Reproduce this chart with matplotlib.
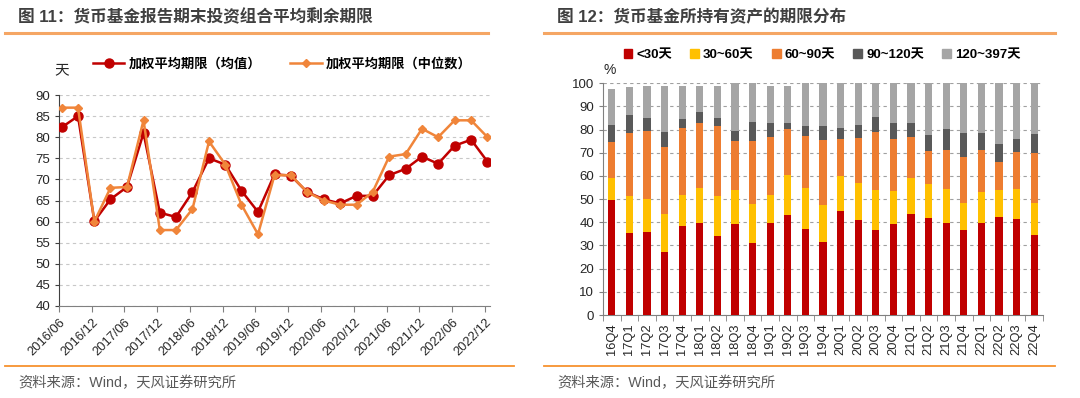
import matplotlib
matplotlib.use("Agg")
import matplotlib.pyplot as plt
import matplotlib.dates as mdates
from matplotlib.lines import Line2D
from matplotlib.patches import Patch
import numpy as np
import pandas as pd

plt.rcParams["font.family"] = ["Liberation Sans", "Noto Sans CJK SC", "DejaVu Sans"]

# ---- chart 11: weighted average maturity ----
periods = [
    "2016/06", "2016/09", "2016/12", "2017/03", "2017/06", "2017/09", "2017/12",
    "2018/03", "2018/06", "2018/09", "2018/12", "2019/03", "2019/06", "2019/09",
    "2019/12", "2020/03", "2020/06", "2020/09", "2020/12", "2021/03", "2021/06",
    "2021/09", "2021/12", "2022/03", "2022/06", "2022/09", "2022/12",
]
wam_mean = [82.3, 85.0, 60.1, 65.3, 68.2, 81.0, 62.1, 61.1, 67.0, 75.0, 73.5, 67.3, 62.3, 71.2,
            70.9, 67.0, 65.3, 64.3, 66.1, 66.1, 71.0, 72.5, 75.4, 73.7, 78.0, 79.4, 74.2]
wam_median = [87, 87, 60, 68, 68.2, 84, 58, 58, 63, 79, 73.5, 64, 57, 71,
              71, 67, 65, 64, 64, 67, 75.4, 76, 82, 80, 84, 84, 80]
line_labels = ["加权平均期限（均值）", "加权平均期限（中位数）"]

# ---- chart 12: maturity buckets (%) ----
quarters = ["16Q4", "17Q1", "17Q2", "17Q3", "17Q4", "18Q1", "18Q2", "18Q3", "18Q4",
            "19Q1", "19Q2", "19Q3", "19Q4", "20Q1", "20Q2", "20Q3", "20Q4",
            "21Q1", "21Q2", "21Q3", "21Q4", "22Q1", "22Q2", "22Q3", "22Q4"]
# cumulative tops
top_lt30 = [49.7, 35.6, 35.9, 27.2, 38.6, 39.5, 34.0, 39.2, 31.1, 39.8, 43.2, 37.2, 31.7,
            45.0, 41.1, 36.5, 39.3, 43.8, 41.9, 39.8, 36.7, 39.5, 42.5, 41.5, 34.4]
top_30_60 = [59.0, 51.5, 50.0, 43.4, 52.0, 54.9, 51.2, 54.0, 47.8, 51.9, 60.6, 55.0, 47.5,
             60.1, 56.8, 54.1, 53.5, 59.0, 56.5, 54.4, 48.4, 53.2, 53.8, 54.4, 48.3]
top_60_90 = [74.5, 78.4, 79.3, 72.4, 80.7, 82.7, 81.4, 75.3, 75.3, 77.0, 80.1, 77.3, 75.5,
             76.0, 76.4, 79.1, 76.0, 76.7, 70.8, 71.2, 68.2, 71.2, 66.0, 70.2, 69.9]
top_90_120 = [82.0, 86.5, 85.0, 79.0, 84.7, 87.6, 85.2, 79.6, 83.3, 82.7, 82.9, 81.7, 81.6,
              80.6, 82.0, 85.3, 83.0, 83.0, 77.6, 80.3, 78.7, 78.7, 73.7, 76.1, 78.1]
top_120_397 = [97.4, 98.6, 98.8, 98.8, 98.8, 98.8, 98.8, 100, 100, 98.8, 98.8, 100, 100,
               100, 100, 100, 100, 100, 100, 100, 100, 100, 100, 100, 100]
bucket_labels = ["<30天", "30~60天", "60~90天", "90~120天", "120~397天"]
bucket_colors = ["#C00000", "#FFC000", "#ED7D31", "#595959", "#A5A5A5"]

TITLE_COLOR = "#404040"
TEXT_COLOR = "#262626"
RULE_TOP = "#F5A664"
RULE_BOT = "#F7922E"

W, H = 1080, 398
fig = plt.figure(figsize=(W / 100, H / 100), dpi=100)


def px_axes(left, top, right, bottom):
    return fig.add_axes([left / W, 1 - bottom / H, (right - left) / W, (bottom - top) / H])


def frame_text(x0, x_top, x_bot, title):
    fig.text(x0 / W + 0.012, 1 - 17 / H, title, fontsize=12, fontweight="bold",
             color=TITLE_COLOR, va="center", ha="left")
    fig.add_artist(Line2D([x0 / W, x_top / W], [1 - 33 / H] * 2, color=RULE_TOP, lw=2.2))
    fig.add_artist(Line2D([x0 / W, x_bot / W], [1 - 366 / H] * 2, color=RULE_BOT, lw=1.3))
    fig.text(x0 / W + 0.012, 1 - 383 / H, "资料来源：Wind，天风证券研究所", fontsize=10.3,
             color="#595959", va="center", ha="left")


frame_text(5, 488, 514, "图 11：货币基金报告期末投资组合平均剩余期限")
frame_text(544, 1055, 1055, "图 12：货币基金所持有资产的期限分布")

# ---- left panel ----
ax1 = px_axes(59, 95, 490, 306)
dates = pd.to_datetime(periods, format="%Y/%m") + pd.Timedelta(days=14)
ax1.plot(dates, wam_mean, color="#C00000", lw=1.8, marker="o", markersize=6.5,
         markeredgecolor="#C00000", label=line_labels[0], zorder=3)
ax1.plot(dates, wam_median, color="#F0853A", lw=1.8, marker="D", markersize=4,
         markeredgecolor="#F0853A", label=line_labels[1], zorder=4)
ticks = pd.date_range("2016-06-01", "2022-12-01", freq="6MS")
ax1.set_xticks(ticks)
ax1.xaxis.set_major_formatter(mdates.DateFormatter("%Y/%m"))
ax1.set_xlim(pd.Timestamp("2016-06-01"), pd.Timestamp("2022-12-29"))
ax1.set_ylim(40, 90)
ax1.set_yticks(np.arange(40, 91, 5))
ax1.grid(axis="y", color="#C8C8C8", ls=(0, (3, 3)), lw=0.8)
ax1.set_axisbelow(True)
for s in ("top", "right"):
    ax1.spines[s].set_visible(False)
ax1.spines["left"].set_color("#404040")
ax1.spines["bottom"].set_color("#808080")
ax1.tick_params(axis="y", labelsize=9.5, colors=TEXT_COLOR, length=3, color="#404040")
ax1.tick_params(axis="x", labelsize=9.3, colors=TEXT_COLOR, length=4, color="#808080")
plt.setp(ax1.get_xticklabels(), rotation=45, ha="right", rotation_mode="anchor")
fig.text(62 / W, 1 - 70 / H, "天", fontsize=10.5, color=TEXT_COLOR, ha="center", va="center")
fig.legend(*ax1.get_legend_handles_labels(), loc="center", bbox_to_anchor=(282 / W, 1 - 64 / H),
           ncol=2, frameon=False, handlelength=2.4, columnspacing=2.2, handletextpad=0.3,
           prop={"weight": "bold", "size": 9.5})

# ---- right panel ----
ax2 = px_axes(603, 83.3, 1043, 315)
x = np.arange(len(quarters))
tops = [top_lt30, top_30_60, top_60_90, top_90_120, top_120_397]
bottom = np.zeros(len(quarters))
for top, color, label in zip(tops, bucket_colors, bucket_labels):
    top = np.asarray(top)
    ax2.bar(x, top - bottom, bottom=bottom, width=0.4, color=color, label=label, zorder=3)
    bottom = top
ax2.set_xlim(-0.5, len(quarters) - 0.5)
ax2.set_ylim(0, 100)
ax2.set_yticks(np.arange(0, 101, 10))
ax2.set_xticks(x)
ax2.set_xticklabels(quarters, rotation=90, fontsize=9.3)
ax2.set_xticks(np.arange(-0.5, len(quarters), 1), minor=True)
ax2.tick_params(axis="x", which="major", length=0, pad=6, colors=TEXT_COLOR)
ax2.tick_params(axis="x", which="minor", length=4, color="#808080")
ax2.tick_params(axis="y", labelsize=9.5, colors=TEXT_COLOR, length=3, color="#808080")
ax2.grid(axis="y", color="#A0A0A0", ls=(0, (3, 3)), lw=0.8)
ax2.set_axisbelow(True)
for s in ("top", "right"):
    ax2.spines[s].set_visible(False)
ax2.spines["left"].set_color("#808080")
ax2.spines["bottom"].set_color("#808080")
fig.text(610 / W, 1 - 70 / H, "%", fontsize=10, color=TEXT_COLOR, ha="center", va="center")
handles = [Patch(color=c) for c in bucket_colors]
fig.legend(handles, bucket_labels, loc="center", bbox_to_anchor=(822 / W, 1 - 55 / H),
           ncol=5, frameon=False, handlelength=0.65, handleheight=0.65, handletextpad=0.3,
           columnspacing=1.4, prop={"weight": "bold", "size": 9.5})

fig.savefig("out.png", dpi=100)
